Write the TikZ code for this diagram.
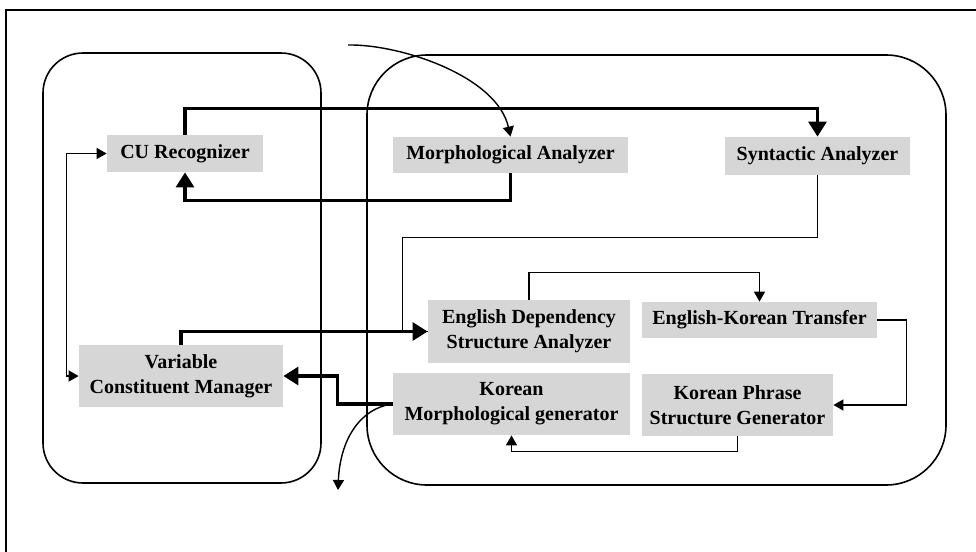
\documentclass[tikz,border=0pt]{standalone}
\usepackage{fontspec}
\setmainfont{Liberation Serif}
\usepackage{tikz}
\usetikzlibrary{arrows.meta, calc, positioning}
\definecolor{Black}{gray}{0}
\definecolor{BoxGray}{gray}{0.84}

\tikzset{
  unit/.style={fill=BoxGray, inner sep=0pt, align=center,
    font=\bfseries\fontsize{10}{12.5}\selectfont},
  thinline/.style={draw=Black, line width=0.7pt},
  thickline/.style={draw=Black, line width=1.6pt},
  thinarr/.style={thinline, -{Triangle[length=5pt,width=5.5pt]}},
  thickarr/.style={thickline, -{Triangle[length=7.5pt,width=9pt]}},
  area/.style={draw=Black, line width=0.8pt}
}

\begin{document}
\begin{tikzpicture}[x=0.5pt, y=-0.5pt]
  \useasboundingbox (0,0) rectangle (976,552);

  % frame and the two areas
  \draw [Black, line width=0.8pt] (6,552) |- (976,10);
  \draw [area, rounded corners=20pt] (43,53) rectangle (321,483);
  \draw [area, rounded corners=30pt] (367,55) rectangle (946,485);

  % units
  \node [unit, minimum width=78pt, minimum height=18.5pt] (cu) at (185,153.5) {CU Recognizer};
  \node [unit, minimum width=117.5pt, minimum height=18pt] (morph) at (510.5,155) {Morphological Analyzer};
  \node [unit, minimum width=92.5pt, minimum height=19pt] (synt) at (817.5,156) {Syntactic Analyzer};
  \node [unit, minimum width=101pt, minimum height=31.5pt] (edsa) at (529,331.5) {English Dependency\\Structure Analyzer};
  \node [unit, minimum width=117.5pt, minimum height=18pt] (ektr) at (759.5,320) {English-Korean Transfer};
  \node [unit, minimum width=102pt, minimum height=31pt] (vcm) at (181,376) {Variable\\Constituent Manager};
  \node [unit, minimum width=118.5pt, minimum height=31pt] (kmg) at (511.5,404) {Korean\\Morphological generator};
  \node [unit, minimum width=95.5pt, minimum height=31pt] (kpsg) at (737.5,405) {Korean Phrase\\Structure Generator};

  \coordinate (input) at (348,45);
  \coordinate (output) at (338,490);

  % connectors
  \draw [thinarr] (input) .. controls (400,44) and (497,76) .. (morph.north);
  \draw [thickarr] (cu.north) -- ++(0,-26) -| (synt.north);
  \draw [thickarr] (morph.south) -- ++(0,27) -| (cu.south);
  \draw [thinline, {Triangle[length=5pt,width=5.5pt]}-{Triangle[length=5pt,width=5.5pt]}]
    (cu.west) -- ++(-40,0) |- (vcm.west);
  \draw [thinline] (synt.south) -- ++(0,62) -| ($(edsa.west)+(-25,0)$) -- (edsa.west);
  \draw [thickarr] (vcm.north) |- (edsa.west);
  \draw [thinarr] (edsa.north) -- ++(0,-27) -| (ektr.north);
  \draw [thinarr] (ektr.east) -- ++(29,0) |- (kpsg.east);
  \draw [thinarr] (kpsg.south) -- ++(0,15) -| (kmg.south);
  \draw [thickarr] (kmg.west) -- ++(-55,0) |- (vcm.east);
  \draw [thinarr] (kmg.west) .. controls (360,408) and (340,440) .. (output);
\end{tikzpicture}
\end{document}
